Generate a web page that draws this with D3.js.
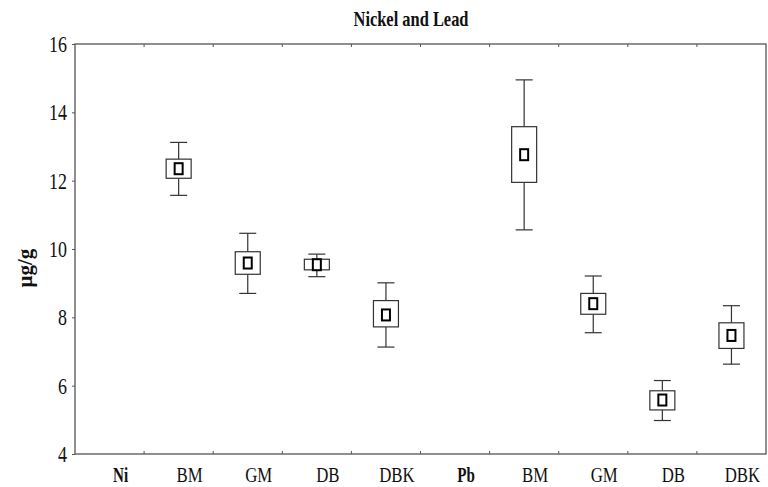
<!DOCTYPE html>
<html><head><meta charset="utf-8">
<script src="https://cdn.jsdelivr.net/npm/d3@7"></script>
<style>body{margin:0;background:#fff}svg{display:block}</style>
</head><body>
<script>
const categories = ["Ni","BM","GM","DB","DBK","Pb","BM","GM","DB","DBK"];
const groupLabel = [true,false,false,false,false,true,false,false,false,false];
const meanVals  = [null,12.35,9.59,9.54,8.07,null,12.76,8.40,5.58,7.47];
const boxHigh   = [null,12.63,9.92,9.70,8.49,null,13.58,8.70,5.85,7.84];
const boxLow    = [null,12.07,9.26,9.39,7.72,null,11.95,8.09,5.29,7.09];
const whiskHigh = [null,13.12,10.46,9.85,9.01,null,14.95,9.21,6.15,8.34];
const whiskLow  = [null,11.57,8.70,9.19,7.13,null,10.56,7.55,4.98,6.63];
const yTicks = [4,6,8,10,12,14,16];

const W=768,H=487, L=75, R=766, T=44, B=454;
const svg=d3.select("body").append("svg").attr("width",W).attr("height",H);
const idx=categories.map((c,i)=>i);
const x=d3.scaleBand().domain(idx).range([L,R]);
const y=d3.scaleLinear().domain([4,16]).range([B,T]);
const font="'Liberation Serif','Times New Roman',serif";
const axisCol="#555";

// frame
svg.append("rect").attr("x",L).attr("y",T).attr("width",R-L).attr("height",B-T)
  .attr("fill","none").attr("stroke",axisCol).attr("stroke-width",1.3);

// y axis
const ya=svg.append("g").attr("transform",`translate(${L},0)`)
  .call(d3.axisLeft(y).tickValues(yTicks).tickSize(3).tickPadding(5));
ya.select(".domain").remove();
ya.selectAll("line").attr("stroke",axisCol);
ya.selectAll("text").attr("font-family",font).attr("font-size",23).attr("fill","#111")
  .each(function(){const t=d3.select(this);const xx=+t.attr("x");t.attr("x",null).attr("transform",`translate(${xx},0) scale(0.78,1)`);})
  .attr("text-anchor","end");

// x axis ticks (inward) on bottom & top, at band boundaries
const bounds=idx.slice(1).map(i=>x(i));
svg.append("g").selectAll("line.b").data(bounds).enter().append("line")
  .attr("x1",d=>d).attr("x2",d=>d).attr("y1",B).attr("y2",B-3).attr("stroke",axisCol);
svg.append("g").selectAll("line.t").data(bounds).enter().append("line")
  .attr("x1",d=>d).attr("x2",d=>d).attr("y1",T).attr("y2",T+3).attr("stroke",axisCol);

// x labels
svg.append("g").selectAll("text").data(idx).enter().append("text")
  .attr("transform",i=>`translate(${x(i)+x.bandwidth()/2+11},${482}) scale(${groupLabel[i]?0.72:0.8},1)`)
  .attr("text-anchor","middle").attr("font-family",font)
  .attr("font-size",21)
  .attr("font-weight",i=>groupLabel[i]?"bold":"normal")
  .attr("fill","#111").text(i=>categories[i]);

// title
const title=svg.append("text").attr("text-anchor","middle").attr("font-family",font).attr("font-size",21)
  .attr("font-weight","bold").attr("fill","#111").text("Nickel and Lead");
const tw=title.node().getComputedTextLength();
title.attr("transform",`translate(411,26) scale(${115/tw},1)`);

// y label
svg.append("text").attr("transform",`translate(32,268) rotate(-90)`)
  .attr("text-anchor","middle").attr("font-family",font).attr("font-size",21)
  .attr("font-weight","bold").attr("fill","#111").text("μg/g");

// boxes
const data=idx.filter(i=>meanVals[i]!==null);
const g=svg.append("g");
const bw=25, cw=17, mw=8, mh=11;
data.forEach(i=>{
  const cx=x(i)+x.bandwidth()/2;
  const gg=g.append("g");
  const st="#333", sw=1.2;
  gg.append("line").attr("x1",cx).attr("x2",cx).attr("y1",y(whiskHigh[i])).attr("y2",y(boxHigh[i])).attr("stroke",st).attr("stroke-width",sw);
  gg.append("line").attr("x1",cx).attr("x2",cx).attr("y1",y(boxLow[i])).attr("y2",y(whiskLow[i])).attr("stroke",st).attr("stroke-width",sw);
  gg.append("line").attr("x1",cx-cw/2).attr("x2",cx+cw/2).attr("y1",y(whiskHigh[i])).attr("y2",y(whiskHigh[i])).attr("stroke",st).attr("stroke-width",sw);
  gg.append("line").attr("x1",cx-cw/2).attr("x2",cx+cw/2).attr("y1",y(whiskLow[i])).attr("y2",y(whiskLow[i])).attr("stroke",st).attr("stroke-width",sw);
  gg.append("rect").attr("x",cx-bw/2).attr("width",bw).attr("y",y(boxHigh[i])).attr("height",y(boxLow[i])-y(boxHigh[i]))
    .attr("fill","#fff").attr("stroke",st).attr("stroke-width",sw);
  gg.append("rect").attr("x",cx-mw/2).attr("width",mw).attr("y",y(meanVals[i])-mh/2).attr("height",mh)
    .attr("fill","#fff").attr("stroke","#000").attr("stroke-width",2);
});
</script>
</body></html>
